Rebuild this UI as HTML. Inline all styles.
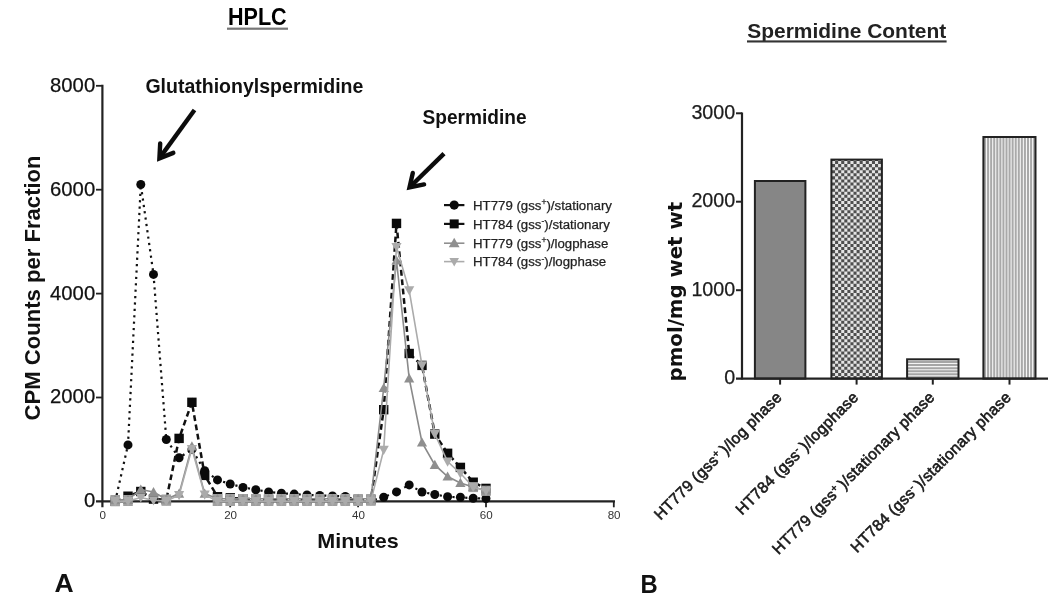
<!DOCTYPE html>
<html lang="en">
<head>
<meta charset="utf-8">
<title>HPLC and Spermidine Content</title>
<style>
html,body{margin:0;padding:0;background:#fff;}
body{width:1050px;height:601px;overflow:hidden;}
svg{display:block;}
.hv{font-family:"Liberation Sans",sans-serif;}
.vb{font-family:"DejaVu Sans","Liberation Sans",sans-serif;font-weight:bold;}
</style>
</head>
<body>
<svg width="1050" height="601" viewBox="0 0 1050 601">
<defs>
<pattern id="pA" width="2" height="2" patternUnits="userSpaceOnUse"><rect width="2" height="2" fill="#868686"/></pattern>
<pattern id="pB" x="832" y="161" width="43" height="43" patternUnits="userSpaceOnUse"><rect width="43" height="43" fill="#e4e4e4"/><path fill="#4e4e4e" d="M0.000 3.071h3.071v3.071h-3.071zM0.000 9.214h3.071v3.071h-3.071zM0.000 15.357h3.071v3.071h-3.071zM0.000 21.500h3.071v3.071h-3.071zM0.000 27.643h3.071v3.071h-3.071zM0.000 33.786h3.071v3.071h-3.071zM0.000 39.929h3.071v3.071h-3.071zM3.071 0.000h3.071v3.071h-3.071zM3.071 6.143h3.071v3.071h-3.071zM3.071 12.286h3.071v3.071h-3.071zM3.071 18.429h3.071v3.071h-3.071zM3.071 24.571h3.071v3.071h-3.071zM3.071 30.714h3.071v3.071h-3.071zM3.071 36.857h3.071v3.071h-3.071zM6.143 3.071h3.071v3.071h-3.071zM6.143 9.214h3.071v3.071h-3.071zM6.143 15.357h3.071v3.071h-3.071zM6.143 21.500h3.071v3.071h-3.071zM6.143 27.643h3.071v3.071h-3.071zM6.143 33.786h3.071v3.071h-3.071zM6.143 39.929h3.071v3.071h-3.071zM9.214 0.000h3.071v3.071h-3.071zM9.214 6.143h3.071v3.071h-3.071zM9.214 12.286h3.071v3.071h-3.071zM9.214 18.429h3.071v3.071h-3.071zM9.214 24.571h3.071v3.071h-3.071zM9.214 30.714h3.071v3.071h-3.071zM9.214 36.857h3.071v3.071h-3.071zM12.286 3.071h3.071v3.071h-3.071zM12.286 9.214h3.071v3.071h-3.071zM12.286 15.357h3.071v3.071h-3.071zM12.286 21.500h3.071v3.071h-3.071zM12.286 27.643h3.071v3.071h-3.071zM12.286 33.786h3.071v3.071h-3.071zM12.286 39.929h3.071v3.071h-3.071zM15.357 0.000h3.071v3.071h-3.071zM15.357 6.143h3.071v3.071h-3.071zM15.357 12.286h3.071v3.071h-3.071zM15.357 18.429h3.071v3.071h-3.071zM15.357 24.571h3.071v3.071h-3.071zM15.357 30.714h3.071v3.071h-3.071zM15.357 36.857h3.071v3.071h-3.071zM18.429 3.071h3.071v3.071h-3.071zM18.429 9.214h3.071v3.071h-3.071zM18.429 15.357h3.071v3.071h-3.071zM18.429 21.500h3.071v3.071h-3.071zM18.429 27.643h3.071v3.071h-3.071zM18.429 33.786h3.071v3.071h-3.071zM18.429 39.929h3.071v3.071h-3.071zM21.500 0.000h3.071v3.071h-3.071zM21.500 6.143h3.071v3.071h-3.071zM21.500 12.286h3.071v3.071h-3.071zM21.500 18.429h3.071v3.071h-3.071zM21.500 24.571h3.071v3.071h-3.071zM21.500 30.714h3.071v3.071h-3.071zM21.500 36.857h3.071v3.071h-3.071zM24.571 3.071h3.071v3.071h-3.071zM24.571 9.214h3.071v3.071h-3.071zM24.571 15.357h3.071v3.071h-3.071zM24.571 21.500h3.071v3.071h-3.071zM24.571 27.643h3.071v3.071h-3.071zM24.571 33.786h3.071v3.071h-3.071zM24.571 39.929h3.071v3.071h-3.071zM27.643 0.000h3.071v3.071h-3.071zM27.643 6.143h3.071v3.071h-3.071zM27.643 12.286h3.071v3.071h-3.071zM27.643 18.429h3.071v3.071h-3.071zM27.643 24.571h3.071v3.071h-3.071zM27.643 30.714h3.071v3.071h-3.071zM27.643 36.857h3.071v3.071h-3.071zM30.714 3.071h3.071v3.071h-3.071zM30.714 9.214h3.071v3.071h-3.071zM30.714 15.357h3.071v3.071h-3.071zM30.714 21.500h3.071v3.071h-3.071zM30.714 27.643h3.071v3.071h-3.071zM30.714 33.786h3.071v3.071h-3.071zM30.714 39.929h3.071v3.071h-3.071zM33.786 0.000h3.071v3.071h-3.071zM33.786 6.143h3.071v3.071h-3.071zM33.786 12.286h3.071v3.071h-3.071zM33.786 18.429h3.071v3.071h-3.071zM33.786 24.571h3.071v3.071h-3.071zM33.786 30.714h3.071v3.071h-3.071zM33.786 36.857h3.071v3.071h-3.071zM36.857 3.071h3.071v3.071h-3.071zM36.857 9.214h3.071v3.071h-3.071zM36.857 15.357h3.071v3.071h-3.071zM36.857 21.500h3.071v3.071h-3.071zM36.857 27.643h3.071v3.071h-3.071zM36.857 33.786h3.071v3.071h-3.071zM36.857 39.929h3.071v3.071h-3.071zM39.929 0.000h3.071v3.071h-3.071zM39.929 6.143h3.071v3.071h-3.071zM39.929 12.286h3.071v3.071h-3.071zM39.929 18.429h3.071v3.071h-3.071zM39.929 24.571h3.071v3.071h-3.071zM39.929 30.714h3.071v3.071h-3.071zM39.929 36.857h3.071v3.071h-3.071z"/></pattern>
<pattern id="pC" x="0" y="363" width="43" height="43" patternUnits="userSpaceOnUse"><rect width="43" height="43" fill="#a6a6a6"/><path fill="#f4f4f4" d="M0 0.000h43v1.070h-43zM0 3.071h43v1.070h-43zM0 6.143h43v1.070h-43zM0 9.214h43v1.070h-43zM0 12.286h43v1.070h-43zM0 15.357h43v1.070h-43zM0 18.429h43v1.070h-43zM0 21.500h43v1.070h-43zM0 24.571h43v1.070h-43zM0 27.643h43v1.070h-43zM0 30.714h43v1.070h-43zM0 33.786h43v1.070h-43zM0 36.857h43v1.070h-43zM0 39.929h43v1.070h-43z"/></pattern>
<pattern id="pD" x="986" y="0" width="43" height="43" patternUnits="userSpaceOnUse"><rect width="43" height="43" fill="#a9a9a9"/><path fill="#f6f6f6" d="M0.000 0v43h1.070v-43zM3.071 0v43h1.070v-43zM6.143 0v43h1.070v-43zM9.214 0v43h1.070v-43zM12.286 0v43h1.070v-43zM15.357 0v43h1.070v-43zM18.429 0v43h1.070v-43zM21.500 0v43h1.070v-43zM24.571 0v43h1.070v-43zM27.643 0v43h1.070v-43zM30.714 0v43h1.070v-43zM33.786 0v43h1.070v-43zM36.857 0v43h1.070v-43zM39.929 0v43h1.070v-43z"/></pattern>
</defs>
<rect width="1050" height="601" fill="#fff"/>
<g>

<g id="left">
<text class="hv" x="228" y="25.2" font-size="24.4" font-weight="bold" textLength="58.7" lengthAdjust="spacingAndGlyphs" fill="#000">HPLC</text>
<rect x="227" y="27.6" width="61" height="2.2" fill="#777"/>
<text class="hv" x="145.4" y="92.7" font-size="19.3" font-weight="bold" textLength="218" lengthAdjust="spacingAndGlyphs" fill="#111">Glutathionylspermidine</text>
<text class="hv" x="422.6" y="123.9" font-size="19.3" font-weight="bold" textLength="104" lengthAdjust="spacingAndGlyphs" fill="#111">Spermidine</text>
<g fill="none" stroke="#0c0c0c" stroke-width="4.4" stroke-linecap="round" stroke-linejoin="miter"><line x1="194.5" y1="110.0" x2="159.9" y2="157.6" stroke-linecap="butt"/><polyline points="173.3,152.9 159.4,158.4 160.2,143.4"/></g>
<g fill="none" stroke="#0c0c0c" stroke-width="4.4" stroke-linecap="round" stroke-linejoin="miter"><line x1="444.0" y1="153.6" x2="410.2" y2="186.8" stroke-linecap="butt"/><polyline points="424.1,184.4 409.5,187.5 412.8,172.9"/></g>
<g stroke="#222" stroke-width="2.2" fill="none">
<line x1="102.4" y1="84.8" x2="102.4" y2="507.3"/>
<line x1="96" y1="501.4" x2="615" y2="501.4"/>
</g>
<g stroke="#222" stroke-width="1.8" fill="none">
<line x1="96" y1="397.5" x2="102.4" y2="397.5"/>
<line x1="96" y1="293.6" x2="102.4" y2="293.6"/>
<line x1="96" y1="189.7" x2="102.4" y2="189.7"/>
<line x1="96" y1="85.8" x2="102.4" y2="85.8"/>
<line x1="230.2" y1="501.4" x2="230.2" y2="507.3"/>
<line x1="358.1" y1="501.4" x2="358.1" y2="507.3"/>
<line x1="486.0" y1="501.4" x2="486.0" y2="507.3"/>
<line x1="613.8" y1="501.4" x2="613.8" y2="507.3"/>
</g>
<g class="hv" font-size="20.3" fill="#111" stroke="#111" stroke-width="0.25" text-anchor="end">
<text x="95.2" y="507.3">0</text>
<text x="95.2" y="403.4">2000</text>
<text x="95.2" y="299.5">4000</text>
<text x="95.2" y="195.6">6000</text>
<text x="95.2" y="91.7">8000</text>
</g>
<g class="hv" font-size="11.6" fill="#333" text-anchor="middle">
<text x="102.7" y="519.4">0</text>
<text x="230.6" y="519.4">20</text>
<text x="358.4" y="519.4">40</text>
<text x="486.3" y="519.4">60</text>
<text x="614.1" y="519.4">80</text>
</g>
<text class="hv" x="317.3" y="547.7" font-size="21" font-weight="bold" textLength="81.4" lengthAdjust="spacingAndGlyphs" fill="#111">Minutes</text>
<text class="hv" transform="translate(40.2,420.4) rotate(-90)" font-size="21.2" font-weight="bold" textLength="265" lengthAdjust="spacingAndGlyphs" fill="#111">CPM Counts per Fraction</text>
<polyline points="115.2,501.4 128.0,444.9 140.8,184.5 153.5,274.4 166.3,439.5 179.1,457.8 191.9,449.4 204.7,470.8 217.5,479.9 230.2,484.0 243.0,487.4 255.8,489.7 268.6,492.0 281.4,493.3 294.2,494.1 307.0,494.9 319.7,495.4 332.5,495.9 345.3,496.5 358.1,500.4 370.9,500.4 383.7,497.3 396.5,491.9 409.2,484.9 422.0,492.0 434.8,494.5 447.6,496.8 460.4,497.3 473.2,498.2 486.0,498.5" fill="none" stroke="#111" stroke-width="2.2" stroke-dasharray="2.2 4.2"/>
<circle cx="115.2" cy="501.4" r="4.5" fill="#0a0a0a"/><circle cx="128.0" cy="444.9" r="4.5" fill="#0a0a0a"/><circle cx="140.8" cy="184.5" r="4.5" fill="#0a0a0a"/><circle cx="153.5" cy="274.4" r="4.5" fill="#0a0a0a"/><circle cx="166.3" cy="439.5" r="4.5" fill="#0a0a0a"/><circle cx="179.1" cy="457.8" r="4.5" fill="#0a0a0a"/><circle cx="191.9" cy="449.4" r="4.5" fill="#0a0a0a"/><circle cx="204.7" cy="470.8" r="4.5" fill="#0a0a0a"/><circle cx="217.5" cy="479.9" r="4.5" fill="#0a0a0a"/><circle cx="230.2" cy="484.0" r="4.5" fill="#0a0a0a"/><circle cx="243.0" cy="487.4" r="4.5" fill="#0a0a0a"/><circle cx="255.8" cy="489.7" r="4.5" fill="#0a0a0a"/><circle cx="268.6" cy="492.0" r="4.5" fill="#0a0a0a"/><circle cx="281.4" cy="493.3" r="4.5" fill="#0a0a0a"/><circle cx="294.2" cy="494.1" r="4.5" fill="#0a0a0a"/><circle cx="307.0" cy="494.9" r="4.5" fill="#0a0a0a"/><circle cx="319.7" cy="495.4" r="4.5" fill="#0a0a0a"/><circle cx="332.5" cy="495.9" r="4.5" fill="#0a0a0a"/><circle cx="345.3" cy="496.5" r="4.5" fill="#0a0a0a"/><circle cx="358.1" cy="500.4" r="4.5" fill="#0a0a0a"/><circle cx="370.9" cy="500.4" r="4.5" fill="#0a0a0a"/><circle cx="383.7" cy="497.3" r="4.5" fill="#0a0a0a"/><circle cx="396.5" cy="491.9" r="4.5" fill="#0a0a0a"/><circle cx="409.2" cy="484.9" r="4.5" fill="#0a0a0a"/><circle cx="422.0" cy="492.0" r="4.5" fill="#0a0a0a"/><circle cx="434.8" cy="494.5" r="4.5" fill="#0a0a0a"/><circle cx="447.6" cy="496.8" r="4.5" fill="#0a0a0a"/><circle cx="460.4" cy="497.3" r="4.5" fill="#0a0a0a"/><circle cx="473.2" cy="498.2" r="4.5" fill="#0a0a0a"/><circle cx="486.0" cy="498.5" r="4.5" fill="#0a0a0a"/>
<polyline points="115.2,501.4 128.0,496.2 140.8,491.5 153.5,499.1 166.3,499.8 179.1,438.4 191.9,402.3 204.7,475.4 217.5,496.7 230.2,497.8 243.0,498.8 255.8,499.3 268.6,499.6 281.4,499.8 294.2,499.8 307.0,499.8 319.7,499.8 332.5,499.8 345.3,499.8 358.1,499.8 370.9,499.8 383.7,409.7 396.5,223.4 409.2,353.5 422.0,365.4 434.8,434.1 447.6,453.3 460.4,467.4 473.2,482.2 486.0,488.4" fill="none" stroke="#111" stroke-width="2.5" stroke-dasharray="5.8 3.6"/>
<rect x="110.5" y="496.7" width="9.4" height="9.4" fill="#0a0a0a"/><rect x="123.3" y="491.5" width="9.4" height="9.4" fill="#0a0a0a"/><rect x="136.1" y="486.8" width="9.4" height="9.4" fill="#0a0a0a"/><rect x="148.8" y="494.4" width="9.4" height="9.4" fill="#0a0a0a"/><rect x="161.6" y="495.1" width="9.4" height="9.4" fill="#0a0a0a"/><rect x="174.4" y="433.7" width="9.4" height="9.4" fill="#0a0a0a"/><rect x="187.2" y="397.6" width="9.4" height="9.4" fill="#0a0a0a"/><rect x="200.0" y="470.7" width="9.4" height="9.4" fill="#0a0a0a"/><rect x="212.8" y="492.0" width="9.4" height="9.4" fill="#0a0a0a"/><rect x="225.6" y="493.1" width="9.4" height="9.4" fill="#0a0a0a"/><rect x="238.3" y="494.1" width="9.4" height="9.4" fill="#0a0a0a"/><rect x="251.1" y="494.6" width="9.4" height="9.4" fill="#0a0a0a"/><rect x="263.9" y="494.9" width="9.4" height="9.4" fill="#0a0a0a"/><rect x="276.7" y="495.1" width="9.4" height="9.4" fill="#0a0a0a"/><rect x="289.5" y="495.1" width="9.4" height="9.4" fill="#0a0a0a"/><rect x="302.3" y="495.1" width="9.4" height="9.4" fill="#0a0a0a"/><rect x="315.0" y="495.1" width="9.4" height="9.4" fill="#0a0a0a"/><rect x="327.8" y="495.1" width="9.4" height="9.4" fill="#0a0a0a"/><rect x="340.6" y="495.1" width="9.4" height="9.4" fill="#0a0a0a"/><rect x="353.4" y="495.1" width="9.4" height="9.4" fill="#0a0a0a"/><rect x="366.2" y="495.1" width="9.4" height="9.4" fill="#0a0a0a"/><rect x="379.0" y="405.0" width="9.4" height="9.4" fill="#0a0a0a"/><rect x="391.8" y="218.7" width="9.4" height="9.4" fill="#0a0a0a"/><rect x="404.5" y="348.8" width="9.4" height="9.4" fill="#0a0a0a"/><rect x="417.3" y="360.7" width="9.4" height="9.4" fill="#0a0a0a"/><rect x="430.1" y="429.4" width="9.4" height="9.4" fill="#0a0a0a"/><rect x="442.9" y="448.6" width="9.4" height="9.4" fill="#0a0a0a"/><rect x="455.7" y="462.7" width="9.4" height="9.4" fill="#0a0a0a"/><rect x="468.5" y="477.5" width="9.4" height="9.4" fill="#0a0a0a"/><rect x="481.3" y="483.7" width="9.4" height="9.4" fill="#0a0a0a"/>
<rect x="110.4" y="495.0" width="9.6" height="11.0" fill="#a0a0a0"/><rect x="123.2" y="495.0" width="9.6" height="11.0" fill="#a0a0a0"/><rect x="161.5" y="494.5" width="9.6" height="11.3" fill="#a0a0a0"/><rect x="212.7" y="494.0" width="9.6" height="12.0" fill="#a0a0a0"/><rect x="225.4" y="494.0" width="9.6" height="12.0" fill="#a0a0a0"/><rect x="238.2" y="494.0" width="9.6" height="12.0" fill="#a0a0a0"/><rect x="251.0" y="494.0" width="9.6" height="12.0" fill="#a0a0a0"/><rect x="263.8" y="494.0" width="9.6" height="12.0" fill="#a0a0a0"/><rect x="276.6" y="494.0" width="9.6" height="12.0" fill="#a0a0a0"/><rect x="289.4" y="494.0" width="9.6" height="12.0" fill="#a0a0a0"/><rect x="302.2" y="494.0" width="9.6" height="12.0" fill="#a0a0a0"/><rect x="314.9" y="494.0" width="9.6" height="12.0" fill="#a0a0a0"/><rect x="327.7" y="494.0" width="9.6" height="12.0" fill="#a0a0a0"/><rect x="340.5" y="494.0" width="9.6" height="12.0" fill="#a0a0a0"/><rect x="353.3" y="494.0" width="9.6" height="12.0" fill="#a0a0a0"/><rect x="366.1" y="494.0" width="9.6" height="11.8" fill="#a0a0a0"/><rect x="468.4" y="482.1" width="9.6" height="10.0" fill="#a0a0a0"/><rect x="481.2" y="485.7" width="9.6" height="10.2" fill="#a0a0a0"/>
<polyline points="115.2,499.8 128.0,499.8 140.8,489.5 153.5,492.0 166.3,499.3 179.1,493.6 191.9,446.3 204.7,493.6 217.5,498.8 230.2,498.8 243.0,498.8 255.8,498.8 268.6,498.8 281.4,498.8 294.2,498.8 307.0,498.8 319.7,498.8 332.5,498.8 345.3,498.8 358.1,498.8 370.9,498.8 383.7,388.0 396.5,260.5 409.2,378.4 422.0,442.5 434.8,464.9 447.6,476.5 460.4,482.9 473.2,486.9 486.0,490.5" fill="none" stroke="#8a8a8a" stroke-width="1.6"/>
<polygon points="115.2,494.7 120.3,503.9 110.1,503.9" fill="#8f8f8f"/><polygon points="128.0,494.7 133.1,503.9 122.9,503.9" fill="#8f8f8f"/><polygon points="140.8,484.4 145.9,493.6 135.7,493.6" fill="#8f8f8f"/><polygon points="153.5,486.9 158.6,496.1 148.4,496.1" fill="#8f8f8f"/><polygon points="166.3,494.2 171.4,503.4 161.2,503.4" fill="#8f8f8f"/><polygon points="179.1,488.5 184.2,497.7 174.0,497.7" fill="#8f8f8f"/><polygon points="191.9,441.2 197.0,450.4 186.8,450.4" fill="#8f8f8f"/><polygon points="204.7,488.5 209.8,497.7 199.6,497.7" fill="#8f8f8f"/><polygon points="217.5,493.7 222.6,502.9 212.4,502.9" fill="#8f8f8f"/><polygon points="230.2,493.7 235.3,502.9 225.2,502.9" fill="#8f8f8f"/><polygon points="243.0,493.7 248.1,502.9 237.9,502.9" fill="#8f8f8f"/><polygon points="255.8,493.7 260.9,502.9 250.7,502.9" fill="#8f8f8f"/><polygon points="268.6,493.7 273.7,502.9 263.5,502.9" fill="#8f8f8f"/><polygon points="281.4,493.7 286.5,502.9 276.3,502.9" fill="#8f8f8f"/><polygon points="294.2,493.7 299.3,502.9 289.1,502.9" fill="#8f8f8f"/><polygon points="307.0,493.7 312.1,502.9 301.9,502.9" fill="#8f8f8f"/><polygon points="319.7,493.7 324.8,502.9 314.6,502.9" fill="#8f8f8f"/><polygon points="332.5,493.7 337.6,502.9 327.4,502.9" fill="#8f8f8f"/><polygon points="345.3,493.7 350.4,502.9 340.2,502.9" fill="#8f8f8f"/><polygon points="358.1,493.7 363.2,502.9 353.0,502.9" fill="#8f8f8f"/><polygon points="370.9,493.7 376.0,502.9 365.8,502.9" fill="#8f8f8f"/><polygon points="383.7,382.9 388.8,392.1 378.6,392.1" fill="#8f8f8f"/><polygon points="396.5,255.4 401.6,264.6 391.4,264.6" fill="#8f8f8f"/><polygon points="409.2,373.3 414.3,382.5 404.1,382.5" fill="#8f8f8f"/><polygon points="422.0,437.4 427.1,446.6 416.9,446.6" fill="#8f8f8f"/><polygon points="434.8,459.8 439.9,469.0 429.7,469.0" fill="#8f8f8f"/><polygon points="447.6,471.4 452.7,480.6 442.5,480.6" fill="#8f8f8f"/><polygon points="460.4,477.8 465.5,487.0 455.3,487.0" fill="#8f8f8f"/><polygon points="473.2,481.8 478.3,490.9 468.1,490.9" fill="#8f8f8f"/><polygon points="486.0,485.4 491.1,494.6 480.9,494.6" fill="#8f8f8f"/>
<polyline points="115.2,501.1 128.0,501.1 140.8,497.5 153.5,500.4 166.3,500.9 179.1,495.2 191.9,448.9 204.7,494.6 217.5,501.1 230.2,501.1 243.0,501.1 255.8,501.1 268.6,501.1 281.4,501.1 294.2,501.1 307.0,501.1 319.7,501.1 332.5,501.1 345.3,501.1 358.1,501.1 370.9,500.9 383.7,449.9 396.5,247.0 409.2,290.4 422.0,365.4 434.8,434.1 447.6,461.6 460.4,473.3 473.2,487.1 486.0,491.0" fill="none" stroke="#ababab" stroke-width="1.6"/>
<polygon points="115.2,506.2 120.3,497.1 110.1,497.1" fill="#ababab"/><polygon points="128.0,506.2 133.1,497.1 122.9,497.1" fill="#ababab"/><polygon points="140.8,502.6 145.9,493.4 135.7,493.4" fill="#ababab"/><polygon points="153.5,505.5 158.6,496.3 148.4,496.3" fill="#ababab"/><polygon points="166.3,506.0 171.4,496.8 161.2,496.8" fill="#ababab"/><polygon points="179.1,500.3 184.2,491.1 174.0,491.1" fill="#ababab"/><polygon points="191.9,454.0 197.0,444.9 186.8,444.9" fill="#ababab"/><polygon points="204.7,499.7 209.8,490.6 199.6,490.6" fill="#ababab"/><polygon points="217.5,506.2 222.6,497.1 212.4,497.1" fill="#ababab"/><polygon points="230.2,506.2 235.3,497.1 225.2,497.1" fill="#ababab"/><polygon points="243.0,506.2 248.1,497.1 237.9,497.1" fill="#ababab"/><polygon points="255.8,506.2 260.9,497.1 250.7,497.1" fill="#ababab"/><polygon points="268.6,506.2 273.7,497.1 263.5,497.1" fill="#ababab"/><polygon points="281.4,506.2 286.5,497.1 276.3,497.1" fill="#ababab"/><polygon points="294.2,506.2 299.3,497.1 289.1,497.1" fill="#ababab"/><polygon points="307.0,506.2 312.1,497.1 301.9,497.1" fill="#ababab"/><polygon points="319.7,506.2 324.8,497.1 314.6,497.1" fill="#ababab"/><polygon points="332.5,506.2 337.6,497.1 327.4,497.1" fill="#ababab"/><polygon points="345.3,506.2 350.4,497.1 340.2,497.1" fill="#ababab"/><polygon points="358.1,506.2 363.2,497.1 353.0,497.1" fill="#ababab"/><polygon points="370.9,506.0 376.0,496.8 365.8,496.8" fill="#ababab"/><polygon points="383.7,455.0 388.8,445.8 378.6,445.8" fill="#ababab"/><polygon points="396.5,252.1 401.6,242.9 391.4,242.9" fill="#ababab"/><polygon points="409.2,295.5 414.3,286.3 404.1,286.3" fill="#ababab"/><polygon points="422.0,370.5 427.1,361.3 416.9,361.3" fill="#ababab"/><polygon points="434.8,439.2 439.9,430.0 429.7,430.0" fill="#ababab"/><polygon points="447.6,466.7 452.7,457.5 442.5,457.5" fill="#ababab"/><polygon points="460.4,478.4 465.5,469.3 455.3,469.3" fill="#ababab"/><polygon points="473.2,492.2 478.3,483.0 468.1,483.0" fill="#ababab"/><polygon points="486.0,496.1 491.1,486.9 480.9,486.9" fill="#ababab"/>
<line x1="444" y1="205.1" x2="464.4" y2="205.1" stroke="#111" stroke-width="2.2"/>
<circle cx="454.2" cy="205.1" r="4.6" fill="#0a0a0a"/>
<text class="hv" x="473" y="209.7" font-size="13.25" fill="#222" stroke="#222" stroke-width="0.25">HT779 (gss<tspan font-size="8.5" dy="-4.5">+</tspan><tspan dy="4.5">)/stationary</tspan></text>
<line x1="444" y1="223.9" x2="464.4" y2="223.9" stroke="#111" stroke-width="2.2"/>
<rect x="449.7" y="219.4" width="9" height="9" fill="#0a0a0a"/>
<text class="hv" x="473" y="228.5" font-size="13.25" fill="#222" stroke="#222" stroke-width="0.25">HT784 (gss<tspan font-size="8.5" dy="-4.5">-</tspan><tspan dy="4.5">)/stationary</tspan></text>
<line x1="444" y1="243.2" x2="464.4" y2="243.2" stroke="#8f8f8f" stroke-width="1.6"/>
<polygon points="454.2,237.8 459.6,247.2 448.8,247.2" fill="#8f8f8f"/>
<text class="hv" x="473" y="247.8" font-size="13.25" fill="#222" stroke="#222" stroke-width="0.25">HT779 (gss<tspan font-size="8.5" dy="-4.5">+</tspan><tspan dy="4.5">)/logphase</tspan></text>
<line x1="444" y1="261.6" x2="464.4" y2="261.6" stroke="#ababab" stroke-width="1.6"/>
<polygon points="454.2,266.4 459.0,258.0 449.4,258.0" fill="#ababab"/>
<text class="hv" x="473" y="266.2" font-size="13.25" fill="#222" stroke="#222" stroke-width="0.25">HT784 (gss<tspan font-size="8.5" dy="-4.5">-</tspan><tspan dy="4.5">)/logphase</tspan></text>
<text class="hv" x="54.6" y="592.4" font-size="26.5" font-weight="bold" fill="#111">A</text>
</g>
<g id="right">
<text class="hv" x="747.3" y="37.9" font-size="20.5" font-weight="bold" textLength="199" lengthAdjust="spacingAndGlyphs" fill="#222">Spermidine Content</text>
<rect x="747" y="40.4" width="199.6" height="2.1" fill="#333"/>
<rect x="754.9" y="181.0" width="50.5" height="197.6" fill="url(#pA)" stroke="#222" stroke-width="2"/>
<rect x="831.4" y="159.6" width="50.5" height="219.0" fill="url(#pB)" stroke="#222" stroke-width="2"/>
<rect x="907.1" y="359.3" width="51.4" height="19.3" fill="url(#pC)" stroke="#222" stroke-width="2"/>
<rect x="983.4" y="137.0" width="52.1" height="241.6" fill="url(#pD)" stroke="#222" stroke-width="2"/>
<g stroke="#222" stroke-width="2.2" fill="none">
<line x1="742.0" y1="112.5" x2="742.0" y2="379.6"/>
<line x1="736" y1="378.6" x2="1048" y2="378.6"/>
</g>
<g stroke="#222" stroke-width="2" fill="none">
<line x1="736" y1="290.2" x2="742.0" y2="290.2"/>
<line x1="736" y1="201.7" x2="742.0" y2="201.7"/>
<line x1="736" y1="113.3" x2="742.0" y2="113.3"/>
<line x1="780.1" y1="378.6" x2="780.1" y2="384.6"/>
<line x1="856.6" y1="378.6" x2="856.6" y2="384.6"/>
<line x1="932.8" y1="378.6" x2="932.8" y2="384.6"/>
<line x1="1009.5" y1="378.6" x2="1009.5" y2="384.6"/>
</g>
<g class="hv" font-size="19.7" fill="#1c1c1c" stroke="#1c1c1c" stroke-width="0.25" text-anchor="end">
<text x="735.2" y="384.0">0</text>
<text x="735.2" y="295.6">1000</text>
<text x="735.2" y="207.1">2000</text>
<text x="735.2" y="118.7">3000</text>
</g>
<text class="vb" transform="translate(681.5,381.4) rotate(-90)" font-size="19.6" textLength="179.5" lengthAdjust="spacingAndGlyphs" fill="#111">pmol/mg wet wt</text>
<text class="hv" transform="translate(782.9,398.2) rotate(-45)" text-anchor="end" font-size="15.6" letter-spacing="0.3" fill="#1a1a1a" stroke="#1a1a1a" stroke-width="0.6">HT779 (gss<tspan font-size="10" dy="-5">+</tspan><tspan dy="5" dx="3">)/log phase</tspan></text>
<text class="hv" transform="translate(859.4,398.2) rotate(-45)" text-anchor="end" font-size="15.6" letter-spacing="0.3" fill="#1a1a1a" stroke="#1a1a1a" stroke-width="0.6">HT784 (gss<tspan font-size="10" dy="-5">-</tspan><tspan dy="5" dx="3">)/logphase</tspan></text>
<text class="hv" transform="translate(935.6,398.2) rotate(-45)" text-anchor="end" font-size="15.6" letter-spacing="0.3" fill="#1a1a1a" stroke="#1a1a1a" stroke-width="0.6">HT779 (gss<tspan font-size="10" dy="-5">+</tspan><tspan dy="5" dx="3">)/stationary phase</tspan></text>
<text class="hv" transform="translate(1012.2,398.2) rotate(-45)" text-anchor="end" font-size="15.6" letter-spacing="0.3" fill="#1a1a1a" stroke="#1a1a1a" stroke-width="0.6">HT784 (gss<tspan font-size="10" dy="-5">-</tspan><tspan dy="5" dx="3">)/stationary phase</tspan></text>
<text class="hv" x="640.6" y="593.2" font-size="26.5" font-weight="bold" textLength="17.2" lengthAdjust="spacingAndGlyphs" fill="#111">B</text>
</g>
</g>
</svg>
</body>
</html>
